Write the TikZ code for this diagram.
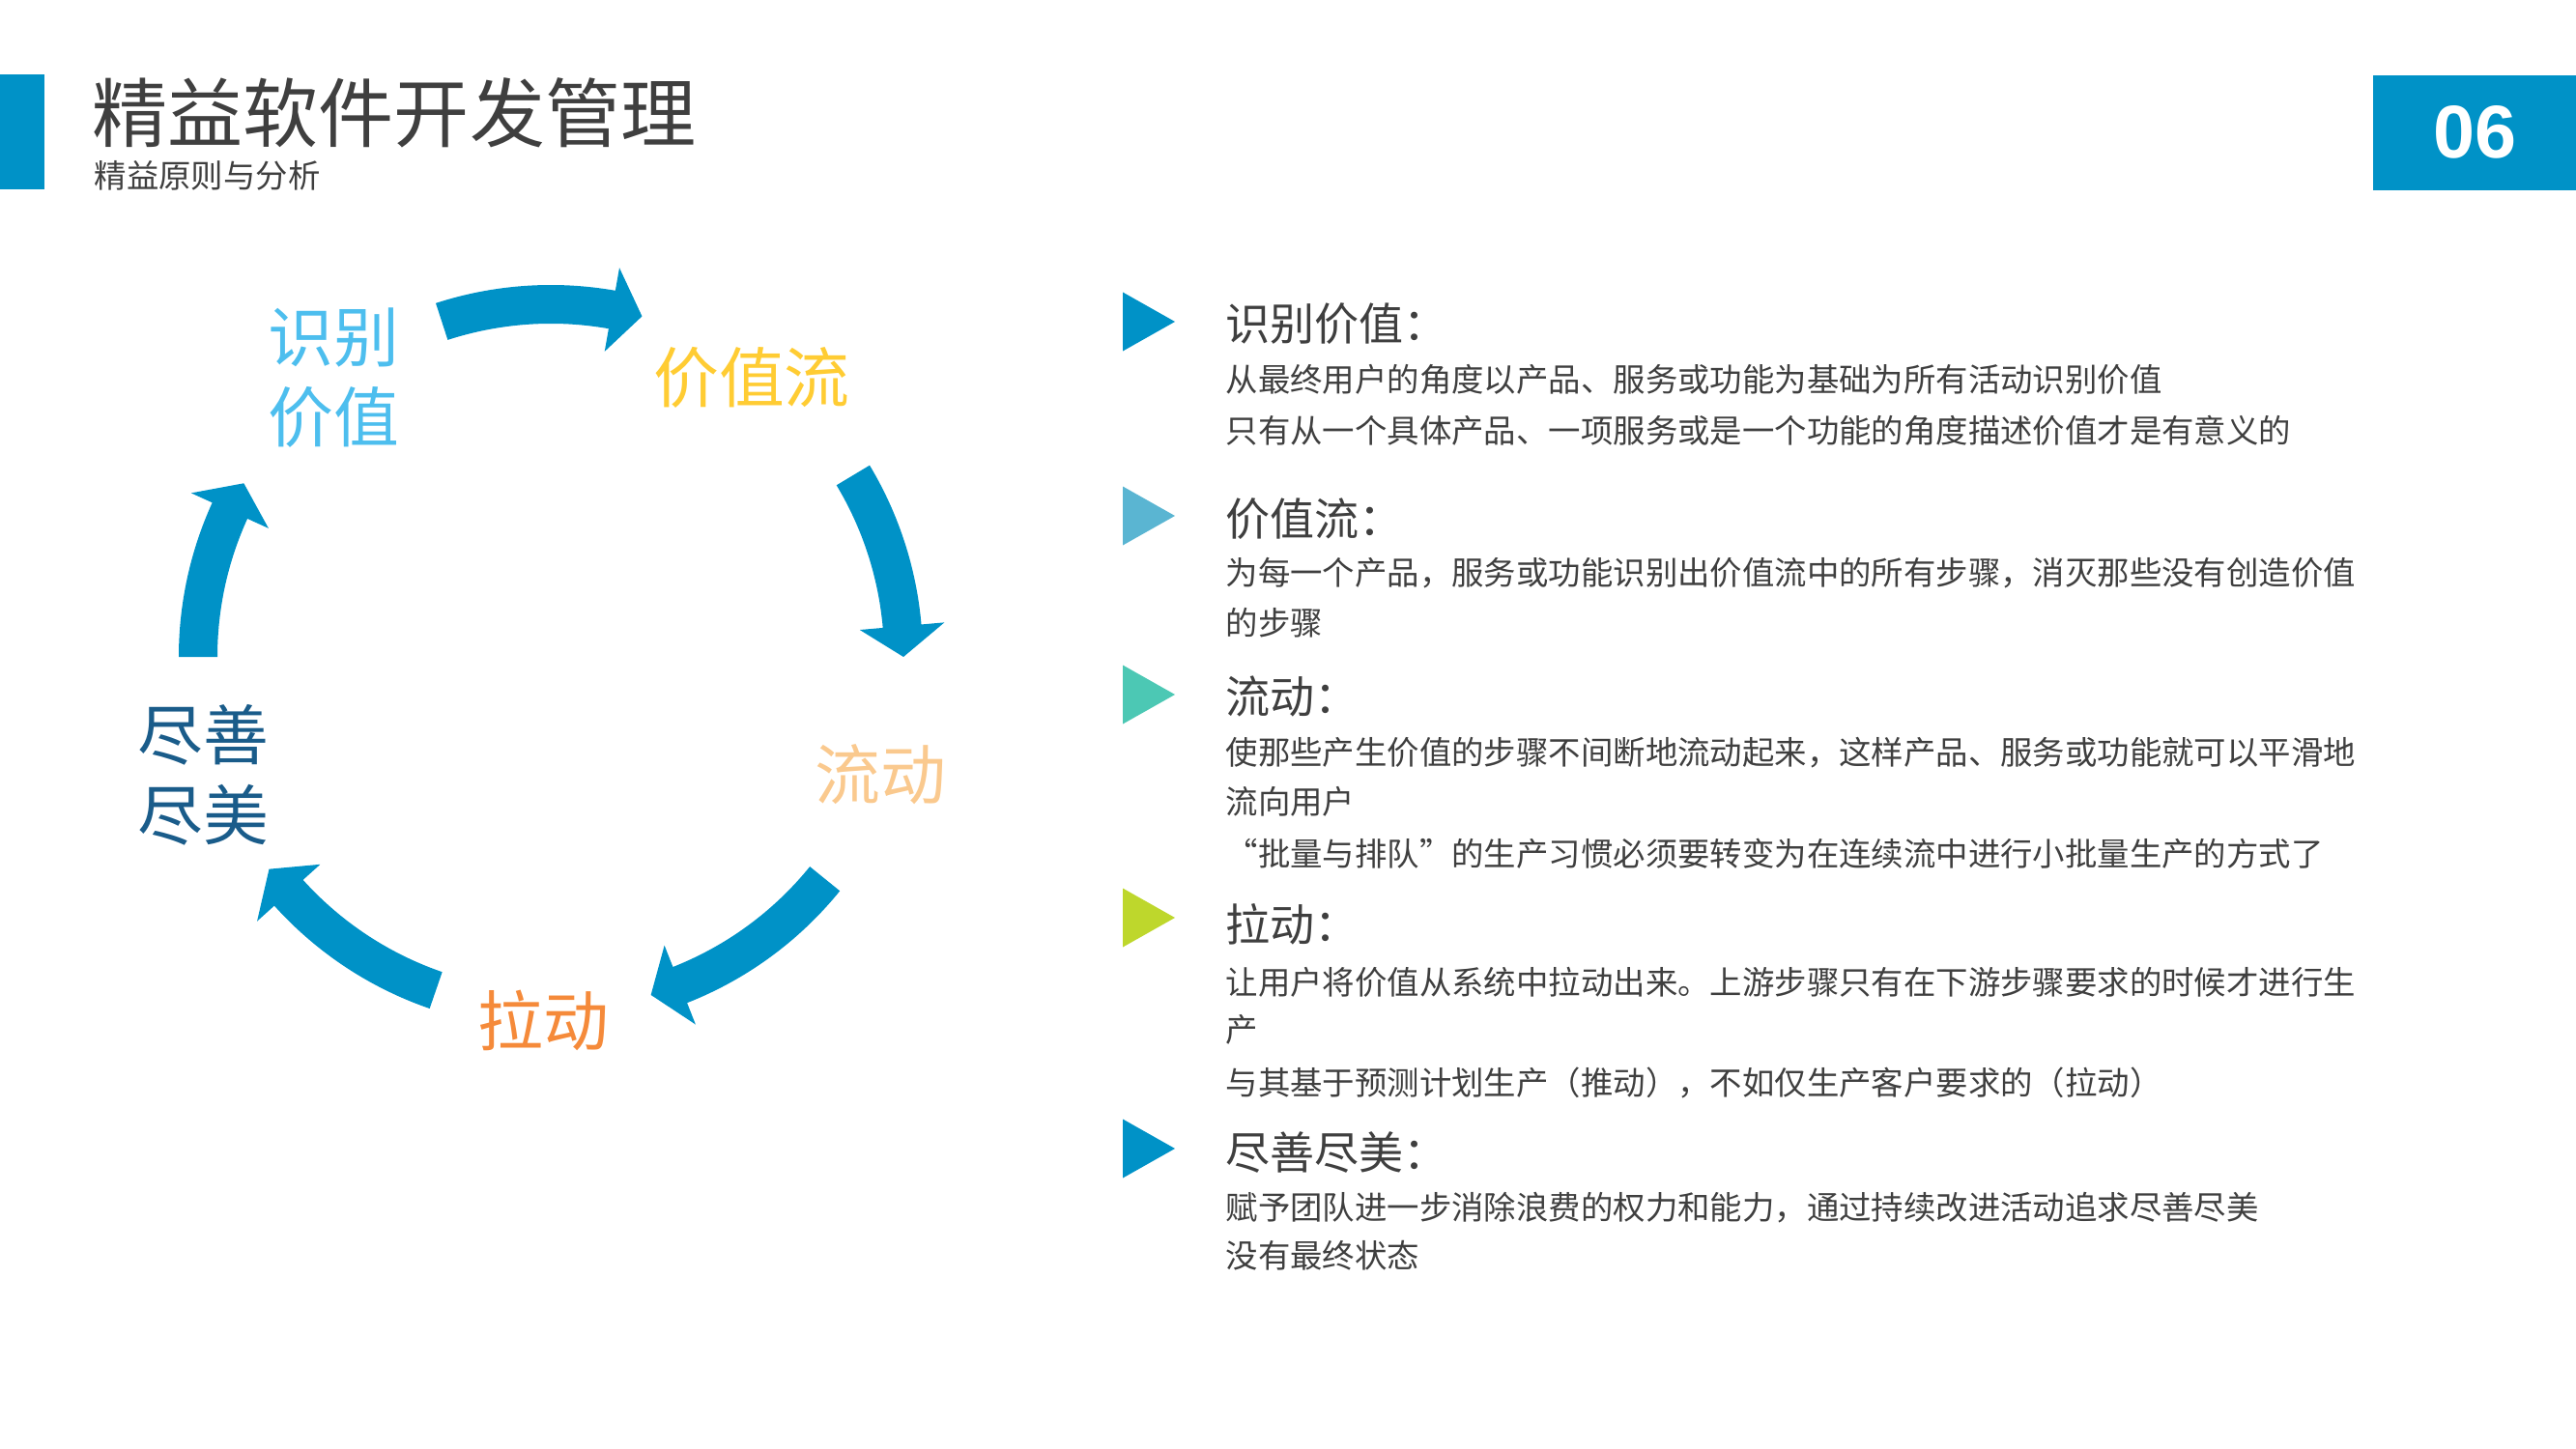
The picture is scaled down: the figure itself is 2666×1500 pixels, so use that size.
\documentclass[tikz,border=0pt]{standalone}
\usepackage{fontspec}
\setmainfont{Liberation Sans}
\newfontfamily\cjk{Noto Sans CJK SC}
\usetikzlibrary{positioning}

\definecolor{cycblue}{HTML}{0092C7}
\definecolor{idblue}{HTML}{4DBEEE}
\definecolor{vsyellow}{HTML}{FFCC33}
\definecolor{flowpeach}{HTML}{FAC98E}
\definecolor{pullorange}{HTML}{F58A3A}
\definecolor{perfblue}{HTML}{1A5C8A}
\definecolor{textgray}{HTML}{3F3F3F}
\definecolor{tritwo}{HTML}{5AB5D2}
\definecolor{trithree}{HTML}{4CC8B4}
\definecolor{trifour}{HTML}{BED72C}

% one curved arrow of the cycle: start angle, head base angle, tip angle
\newcommand{\cyclearrow}[3]{%
  \fill[cycblue] (#1:385) arc[start angle=#1, end angle=#2, radius=385]
    -- (#2:409) -- (#3:365) -- (#2:321) -- (#2:345)
    arc[start angle=#2, end angle=#1, radius=345] -- cycle;
}
% bullet triangle: colour, vertical centre
\newcommand{\marker}[2]{%
  \fill[#1] (1162,{#2-30.5}) -- (1216,#2) -- (1162,{#2+30.5}) -- cycle;
}

\begin{document}
\begin{tikzpicture}[
  x=0.01cm, y=-0.01cm,
  cyclabel/.style={align=center, inner sep=0pt, font=\cjk\fontsize{19.3}{23.6}\selectfont},
  heading/.style={anchor=west, inner sep=0pt, text=textgray, font=\cjk\fontsize{13.1}{15}\selectfont},
  body/.style={anchor=west, inner sep=0pt, text=textgray, font=\cjk\fontsize{9.5}{15}\selectfont}
]
\useasboundingbox (0,0) rectangle (2666,1500);

% header
\fill[cycblue] (0,77) rectangle (46,196);
\node[anchor=west, inner sep=0pt, text=textgray, font=\cjk\fontsize{22.2}{26}\selectfont] (title) at (95,117) {精益软件开发管理};
\node[anchor=west, inner sep=0pt, text=textgray, font=\cjk\fontsize{9.5}{12}\selectfont] (subtitle) at (97,182) {精益原则与分析};
\node[anchor=north west, fill=cycblue, minimum width=2.11cm, minimum height=1.19cm, inner sep=0pt,
      text=white, font=\bfseries\fontsize{22}{26}\selectfont] (pageno) at (2455,77) {06};

% five curved arrows around the cycle
\coordinate (cyc) at (570,680);
\begin{scope}[shift={(cyc)}, x=0.01cm, y=0.01cm]
  \cyclearrow{108}{80}{75}
  \cyclearrow{31}{5}{0}
  \cyclearrow{-39}{-68.5}{-73.5}
  \cyclearrow{-109}{-138}{-143}
  \cyclearrow{180}{155.5}{150.5}
\end{scope}

% cycle labels
\node[cyclabel, text=idblue] (identify) at (345,391) {识别\\价值};
\node[cyclabel, text=vsyellow] (stream) at (778,391) {价值流};
\node[cyclabel, text=flowpeach] (flow) at (911,802) {流动};
\node[cyclabel, text=pullorange] (pull) at (562,1056) {拉动};
\node[cyclabel, text=perfblue] (perfect) at (210,802) {尽善\\尽美};

% principle list
\marker{cycblue}{333}
\node[heading] (h1) at (1268,335) {识别价值：};
\node[body] (b1a) at (1268,393) {从最终用户的角度以产品、服务或功能为基础为所有活动识别价值};
\node[body] (b1b) at (1268,446) {只有从一个具体产品、一项服务或是一个功能的角度描述价值才是有意义的};

\marker{tritwo}{534}
\node[heading] (h2) at (1268,537) {价值流：};
\node[body] (b2a) at (1268,593) {为每一个产品，服务或功能识别出价值流中的所有步骤，消灭那些没有创造价值};
\node[body] (b2b) at (1268,645) {的步骤};

\marker{trithree}{719}
\node[heading] (h3) at (1268,721) {流动：};
\node[body] (b3a) at (1268,779) {使那些产生价值的步骤不间断地流动起来，这样产品、服务或功能就可以平滑地};
\node[body] (b3b) at (1268,830) {流向用户};
\node[body] (b3c) at (1268,884) {“批量与排队”的生产习惯必须要转变为在连续流中进行小批量生产的方式了};

\marker{trifour}{950}
\node[heading] (h4) at (1268,957) {拉动：};
\node[body] (b4a) at (1268,1017) {让用户将价值从系统中拉动出来。上游步骤只有在下游步骤要求的时候才进行生};
\node[body] (b4b) at (1268,1066) {产};
\node[body] (b4c) at (1268,1121) {与其基于预测计划生产（推动），不如仅生产客户要求的（拉动）};

\marker{cycblue}{1189}
\node[heading] (h5) at (1268,1193) {尽善尽美：};
\node[body] (b5a) at (1268,1250) {赋予团队进一步消除浪费的权力和能力，通过持续改进活动追求尽善尽美};
\node[body] (b5b) at (1268,1300) {没有最终状态};

\end{tikzpicture}
\end{document}
